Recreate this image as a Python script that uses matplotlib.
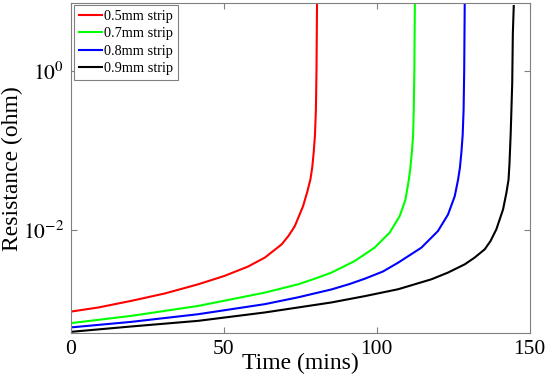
import numpy as np
import matplotlib
matplotlib.use("Agg")
import matplotlib.pyplot as plt

# values (time in mins, resistance in ohm)
t_05 = [0, 8.9, 19.8, 30.7, 41.6, 50.1, 57.9, 63.4, 68.9, 71.2, 73.2, 75.9, 77.3, 78.3, 78.9, 79.4, 79.8,
        80.1, 80.3, 80.5]
r_05 = [9.6e-4, 1.08e-3, 1.31e-3, 1.62e-3, 2.11e-3, 2.68e-3, 3.52e-3, 4.56e-3, 6.68e-3, 8.6e-3, 1.13e-2,
        2.01e-2, 3.07e-2, 4.34e-2, 6.13e-2, 9.7e-2, 0.158, 0.325, 1.03, 10]

t_07 = [0, 19.8, 41.6, 63.4, 74.3, 80.0, 85.2, 92.8, 99.3, 104.2, 107.5, 109.4, 110.5, 111.0, 111.5, 111.9,
        112.1, 112.3, 112.5]
r_07 = [6.88e-4, 8.49e-4, 1.13e-3, 1.66e-3, 2.11e-3, 2.5e-3, 2.96e-3, 4.13e-3, 6.08e-3, 9.36e-3, 1.51e-2,
        2.44e-2, 4.34e-2, 6.13e-2, 9.7e-2, 0.158, 0.325, 1.03, 10]

t_08 = [0, 19.8, 41.6, 63.4, 74.3, 85.2, 91.0, 96.1, 102.0, 107.0, 114.6, 120.0, 123.3, 125.5, 126.6, 127.2,
        127.7, 128.1, 128.4, 128.6, 128.8]
r_08 = [6.08e-4, 7.14e-4, 8.9e-4, 1.19e-3, 1.45e-3, 1.82e-3, 2.12e-3, 2.48e-3, 3.05e-3, 3.94e-3, 6.08e-3,
        9.8e-3, 1.58e-2, 2.68e-2, 4.34e-2, 6.13e-2, 9.7e-2, 0.158, 0.325, 1.03, 10]

t_09 = [0, 19.8, 41.6, 63.4, 85.2, 96.1, 107.0, 117.9, 123.3, 128.8, 132.0, 135.3, 137.2, 139.1, 141.3, 142.4,
        143.1, 143.4, 143.8, 144.3, 144.5, 144.8]
r_09 = [5.35e-4, 6.25e-4, 7.35e-4, 9.36e-4, 1.25e-3, 1.5e-3, 1.83e-3, 2.44e-3, 2.96e-3, 3.76e-3, 4.56e-3,
        5.79e-3, 7.35e-3, 1.03e-2, 1.83e-2, 2.96e-2, 4.34e-2, 6.8e-2, 0.164, 0.70, 2.9, 6.5]

labels = ["0.5mm strip", "0.7mm strip", "0.8mm strip", "0.9mm strip"]
colors = ["#ff0000", "#00ff00", "#0000ff", "#000000"]

plt.rcParams["font.family"] = ["Liberation Serif", "DejaVu Serif"]
plt.rcParams["mathtext.fontset"] = "stix"

fig = plt.figure(figsize=(5.5, 3.83), dpi=100)
ax = fig.add_axes([0.129, 0.131, 0.834, 0.860])

for t, r, lab, c in zip([t_05, t_07, t_08, t_09], [r_05, r_07, r_08, r_09], labels, colors):
    ax.plot(t, r, color=c, lw=1.5, label=lab)

ax.set_yscale("log")
ax.set_xlim(0, 150)
ax.set_ylim(5.2e-4, 7.0)
ax.set_xticks([0, 50, 100, 150])
ax.set_yticks([1e-2, 1e0])
ax.set_yticklabels([r"$10^{-2}$", r"$10^{0}$"])
ax.yaxis.set_minor_locator(matplotlib.ticker.NullLocator())

gray = "#808080"
for s in ax.spines.values():
    s.set_color(gray)
    s.set_linewidth(0.8)
ax.tick_params(which="both", direction="in", top=True, right=True, color=gray,
               length=4, labelsize=15.5, pad=5)

ax.set_xlabel("Time (mins)", fontsize=17, labelpad=-4)
ax.set_ylabel("Resistance (ohm)", fontsize=17, labelpad=0)

leg = ax.legend(loc="upper left", bbox_to_anchor=(0.006, 0.995), borderaxespad=0,
                fontsize=10.3, handlelength=1.6, handletextpad=0.2, labelspacing=0.3,
                borderpad=0.35, fancybox=False, framealpha=1, edgecolor=gray)
leg.get_frame().set_linewidth(0.8)

fig.savefig("out.png", dpi=100)
